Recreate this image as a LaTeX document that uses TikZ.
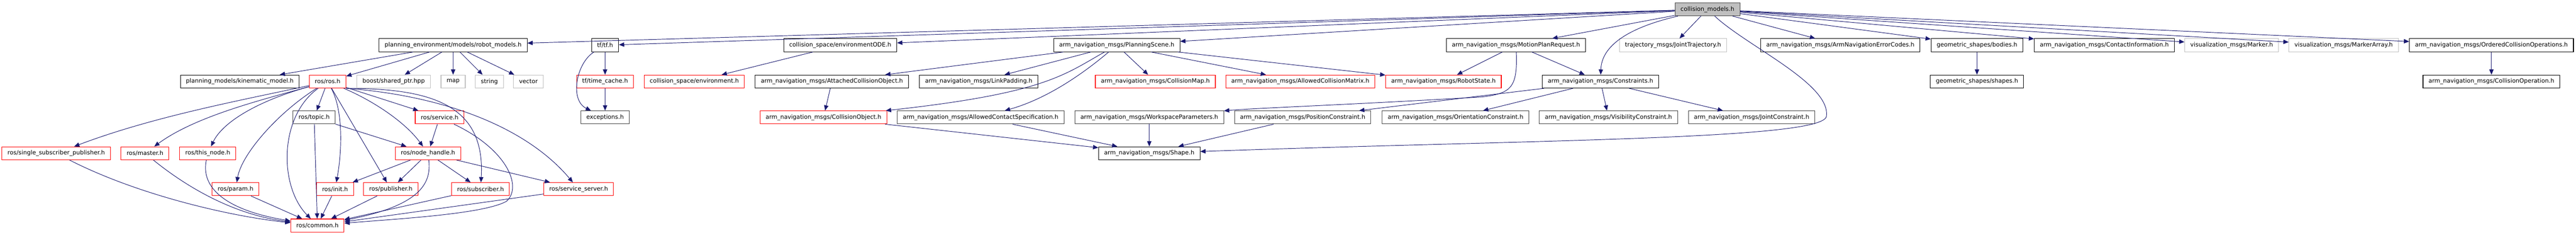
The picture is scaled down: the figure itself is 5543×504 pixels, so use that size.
\documentclass[tikz,border=0pt]{standalone}
\usepackage{fontspec}
\setmainfont{DejaVu Sans}
\usetikzlibrary{arrows.meta}
\definecolor{edgeblue}{RGB}{25,25,112}
\definecolor{darkframe}{RGB}{64,64,64}
\definecolor{lightframe}{RGB}{191,191,191}
\tikzset{every picture/.style={line width=0.75pt}}
\tikzset{
	hfile/.style={draw=black, fill=white, line width=0.9pt, inner xsep=9pt, inner ysep=0pt, minimum height=21pt, font=\fontsize{9.5}{11}\selectfont},
	hred/.style={hfile, draw=red},
	hdark/.style={hfile, draw=darkframe},
	hlight/.style={hfile, draw=lightframe},
	hroot/.style={hfile, draw=darkframe, fill=lightframe},
	dep/.style={draw=edgeblue, line width=0.8pt, -{Triangle[length=8.5pt,width=7pt]}}
}

\begin{document}
\begin{tikzpicture}[x=0.75pt,y=0.75pt,yscale=-1,xscale=1]
	\useasboundingbox (0,0) rectangle (5543,504);

	% Text Node: root
	\node[hroot] (cm) at (3674,20) {collision\_models.h};

	% Text Nodes: row 1
	\node[hfile] (rm) at (975,97) {planning\_environment/models/robot\_models.h};
	\node[hfile] (tf) at (1302,97) {tf/tf.h};
	\node[hfile] (envode) at (1808,97) {collision\_space/environmentODE.h};
	\node[hfile] (ps) at (2403,97) {arm\_navigation\_msgs/PlanningScene.h};
	\node[hfile] (mpr) at (3262,97) {arm\_navigation\_msgs/MotionPlanRequest.h};
	\node[hlight] (jt) at (3600,97) {trajectory\_msgs/JointTrajectory.h};
	\node[hfile] (aec) at (3960,97) {arm\_navigation\_msgs/ArmNavigationErrorCodes.h};
	\node[hfile] (bodies) at (4254,97) {geometric\_shapes/bodies.h};
	\node[hfile] (ci) at (4528,97) {arm\_navigation\_msgs/ContactInformation.h};
	\node[hlight] (marker) at (4802,97) {visualization\_msgs/Marker.h};
	\node[hlight] (markerarr) at (5043,97) {visualization\_msgs/MarkerArray.h};
	\node[hfile] (oco) at (5361,97) {arm\_navigation\_msgs/OrderedCollisionOperations.h};

	% Text Nodes: row 2
	\node[hfile] (km) at (516,175) {planning\_models/kinematic\_model.h};
	\node[hred] (rosh) at (705,175) {ros/ros.h};
	\node[hlight] (boost) at (847,175) {boost/shared\_ptr.hpp};
	\node[hlight] (map) at (975,175) {map};
	\node[hlight] (string) at (1053,175) {string};
	\node[hlight] (vector) at (1137,175) {vector};
	\node[hred] (tc) at (1302,175) {tf/time\_cache.h};
	\node[hred] (env) at (1494,175) {collision\_space/environment.h};
	\node[hfile] (aco) at (1790,175) {arm\_navigation\_msgs/AttachedCollisionObject.h};
	\node[hfile] (lp) at (2106,175) {arm\_navigation\_msgs/LinkPadding.h};
	\node[hred] (cmap) at (2486,175) {arm\_navigation\_msgs/CollisionMap.h};
	\node[hred] (acm) at (2798,175) {arm\_navigation\_msgs/AllowedCollisionMatrix.h};
	\node[hred] (rs) at (3106,175) {arm\_navigation\_msgs/RobotState.h};
	\node[hfile] (cons) at (3444,175) {arm\_navigation\_msgs/Constraints.h};
	\node[hfile] (shapes) at (4254,175) {geometric\_shapes/shapes.h};
	\node[hfile] (cop) at (5361,175) {arm\_navigation\_msgs/CollisionOperation.h};

	% Text Nodes: row 3
	\node[hdark] (topic) at (676,252) {ros/topic.h};
	\node[hred] (service) at (946,252) {ros/service.h};
	\node[hdark] (exc) at (1302,252) {exceptions.h};
	\node[hred] (co) at (1772,252) {arm\_navigation\_msgs/CollisionObject.h};
	\node[hdark] (acs) at (2110,252) {arm\_navigation\_msgs/AllowedContactSpecification.h};
	\node[hdark] (wp) at (2473,252) {arm\_navigation\_msgs/WorkspaceParameters.h};
	\node[hdark] (pc) at (2803,252) {arm\_navigation\_msgs/PositionConstraint.h};
	\node[hdark] (oc) at (3132,252) {arm\_navigation\_msgs/OrientationConstraint.h};
	\node[hdark] (vc) at (3461,252) {arm\_navigation\_msgs/VisibilityConstraint.h};
	\node[hdark] (jc) at (3769,252) {arm\_navigation\_msgs/JointConstraint.h};

	% Text Nodes: row 4
	\node[hred] (ssp) at (121,329) {ros/single\_subscriber\_publisher.h};
	\node[hred] (master) at (312,329) {ros/master.h};
	\node[hred] (thisnode) at (447,329) {ros/this\_node.h};
	\node[hred] (nh) at (921,329) {ros/node\_handle.h};
	\node[hfile] (shape) at (2473,329) {arm\_navigation\_msgs/Shape.h};

	% Text Nodes: row 5
	\node[hred] (param) at (507,406) {ros/param.h};
	\node[hred] (init) at (721,406) {ros/init.h};
	\node[hred] (pub) at (841,406) {ros/publisher.h};
	\node[hred] (sub) at (1034,406) {ros/subscriber.h};
	\node[hred] (ss) at (1245,406) {ros/service\_server.h};

	% Text Node: row 6
	\node[hred] (common) at (683,484) {ros/common.h};

	%Lines from collision_models.h
	\draw[dep] (cm) -- (rm);
	\draw[dep] (cm) -- (tf);
	\draw[dep] (cm) -- (envode);
	\draw[dep] (cm) -- (ps);
	\draw[dep] (cm) -- (mpr);
	\draw[dep] (cm) .. controls (3500,60) and (3446,100) .. (cons);
	\draw[dep] (cm) -- (jt);
	\draw[dep] (cm) -- (aec);
	\draw[dep] (cm) -- (bodies);
	\draw[dep] (cm) -- (ci);
	\draw[dep] (cm) -- (marker);
	\draw[dep] (cm) -- (markerarr);
	\draw[dep] (cm) -- (oco);
	\draw[dep] (cm) .. controls (3760,100) and (3940,180) .. (3930,250) .. controls (3920,300) and (3300,300) .. (shape);

	%Lines from robot_models.h
	\draw[dep] (rm) -- (km);
	\draw[dep] (rm) -- (rosh);
	\draw[dep] (rm) -- (boost);
	\draw[dep] (rm) -- (map);
	\draw[dep] (rm) -- (string);
	\draw[dep] (rm) -- (vector);

	%Lines from tf
	\draw[dep] (tf) -- (tc);
	\draw[dep] (tf) .. controls (1240,135) and (1225,215) .. (exc);
	\draw[dep] (tc) -- (exc);
	\draw[dep] (envode) -- (env);

	%Lines from PlanningScene.h
	\draw[dep] (ps) -- (aco);
	\draw[dep] (ps) -- (lp);
	\draw[dep] (ps) .. controls (2290,160) and (2250,200) .. (co);
	\draw[dep] (ps) .. controls (2340,150) and (2260,210) .. (acs);
	\draw[dep] (ps) -- (cmap);
	\draw[dep] (ps) -- (acm);
	\draw[dep] (ps) -- (rs);
	\draw[dep] (aco) -- (co);

	%Lines from MotionPlanRequest.h and Constraints.h
	\draw[dep] (mpr) -- (rs);
	\draw[dep] (mpr) -- (cons);
	\draw[dep] (mpr) .. controls (3266,190) and (3250,200) .. (3190,208) .. controls (2900,225) and (2700,232) .. (wp);
	\draw[dep] (cons) -- (pc);
	\draw[dep] (cons) -- (oc);
	\draw[dep] (cons) -- (vc);
	\draw[dep] (cons) -- (jc);
	\draw[dep] (bodies) -- (shapes);
	\draw[dep] (oco) -- (cop);

	%Lines into Shape.h
	\draw[dep] (co) -- (shape);
	\draw[dep] (acs) -- (shape);
	\draw[dep] (wp) -- (shape);
	\draw[dep] (pc) -- (shape);

	%Lines from ros/ros.h
	\draw[dep] (rosh) .. controls (520,215) and (330,250) .. (ssp);
	\draw[dep] (rosh) .. controls (560,215) and (420,250) .. (master);
	\draw[dep] (rosh) .. controls (560,215) and (480,260) .. (thisnode);
	\draw[dep] (rosh) .. controls (600,240) and (520,330) .. (param);
	\draw[dep] (rosh) .. controls (600,250) and (600,400) .. (common);
	\draw[dep] (rosh) -- (topic);
	\draw[dep] (rosh) .. controls (740,240) and (735,330) .. (init);
	\draw[dep] (rosh) -- (pub);
	\draw[dep] (rosh) .. controls (800,215) and (870,260) .. (nh);
	\draw[dep] (rosh) -- (service);
	\draw[dep] (rosh.south east) .. controls (920,190) and (1045,220) .. (sub);
	\draw[dep] (rosh.south east) .. controls (950,205) and (1130,270) .. (ss);

	%Lines from topic.h, service.h, node_handle.h
	\draw[dep] (topic) -- (nh);
	\draw[dep] (topic) -- (common);
	\draw[dep] (service) -- (nh);
	\draw[dep] (service) .. controls (1090,320) and (1125,400) .. (1090,432) .. controls (1040,460) and (850,470) .. (common);
	\draw[dep] (nh) -- (init);
	\draw[dep] (nh) -- (pub);
	\draw[dep] (nh) -- (sub);
	\draw[dep] (nh) -- (ss);
	\draw[dep] (nh) .. controls (928,390) and (910,440) .. (common);

	%Lines into ros/common.h
	\draw[dep] (ssp) .. controls (300,420) and (500,465) .. (common);
	\draw[dep] (master) .. controls (400,400) and (500,460) .. (common);
	\draw[dep] (thisnode) .. controls (432,400) and (480,450) .. (common);
	\draw[dep] (param) -- (common);
	\draw[dep] (init) -- (common);
	\draw[dep] (pub) -- (common);
	\draw[dep] (sub) -- (common);
	\draw[dep] (ss) -- (common);

\end{tikzpicture}
\end{document}
